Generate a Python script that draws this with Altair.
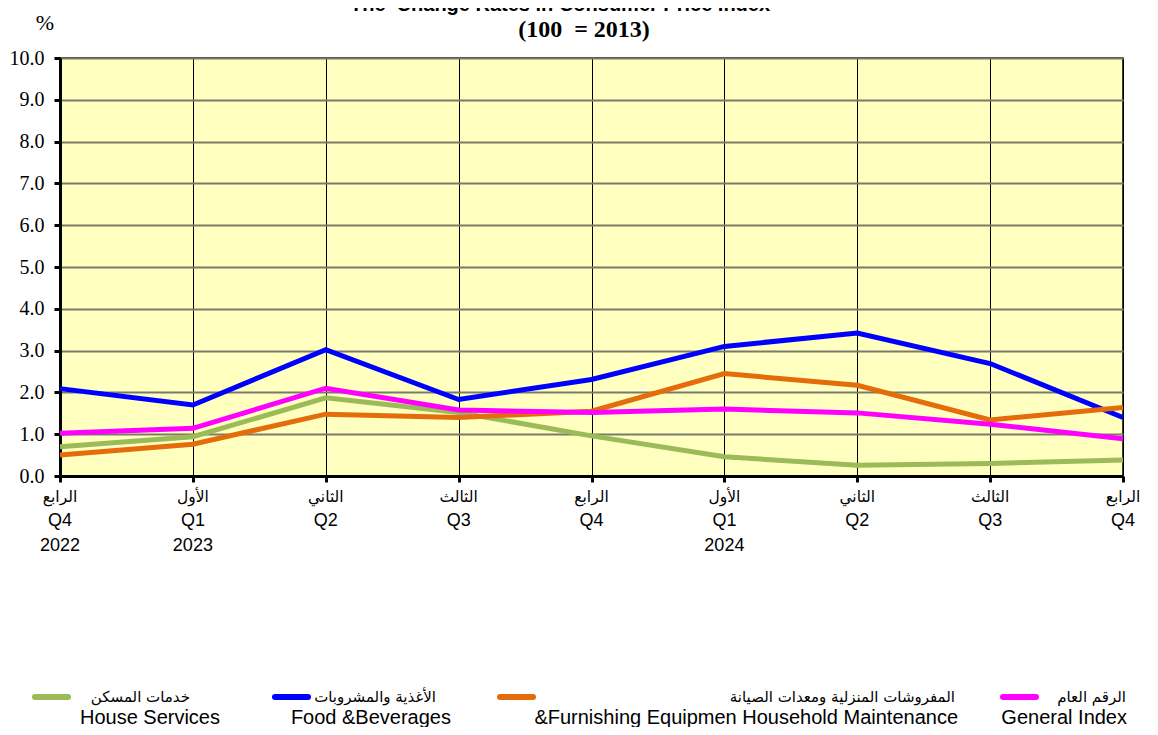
import altair as alt
import pandas as pd

# ---- data ----
quarters_ar = ["الرابع", "الأول", "الثاني", "الثالث", "الرابع", "الأول", "الثاني", "الثالث", "الرابع"]
quarters_en = ["Q4", "Q1", "Q2", "Q3", "Q4", "Q1", "Q2", "Q3", "Q4"]
years = ["2022", "2023", "", "", "", "2024", "", "", ""]

house = [0.70, 0.94, 1.87, 1.52, 0.96, 0.46, 0.26, 0.30, 0.38]
food = [2.09, 1.70, 3.02, 1.83, 2.31, 3.10, 3.42, 2.69, 1.40]
furnish = [0.50, 0.76, 1.48, 1.40, 1.55, 2.45, 2.17, 1.34, 1.64]
general = [1.02, 1.14, 2.10, 1.58, 1.52, 1.60, 1.51, 1.24, 0.89]

series_en = ["House Services", "Food &Beverages", "&Furnishing Equipmen Household Maintenance", "General Index"]
series_ar = ["خدمات المسكن", "الأغذية والمشروبات", "المفروشات المنزلية ومعدات الصيانة", "الرقم العام"]
series_vals = [house, food, furnish, general]
series_colors = ["#9BBB59", "#0000FF", "#E46C0A", "#FF00FF"]

title1 = "The\u00a0 Change Rates in Consumer Price Index"
title2 = "(100\u00a0 = 2013)"

W, H = 1063, 418

idx = list(range(len(quarters_en)))
xscale = alt.Scale(domain=[0, 8], nice=False, zero=False)
yscale = alt.Scale(domain=[0, 10], nice=False)

labels_df = pd.DataFrame({"i": idx, "ar": quarters_ar, "en": quarters_en, "yr": years})

xaxis = alt.Axis(values=idx, labels=False, title=None, grid=True)
yaxis = alt.Axis(values=list(range(11)), format=".1f", title=None, grid=True)

# background grid / axes layer
base = alt.Chart(labels_df).mark_point(opacity=0).encode(
    x=alt.X("i:Q", scale=xscale, axis=xaxis),
    y=alt.Y("v:Q", scale=yscale, axis=yaxis),
).transform_calculate(v="0")

layers = [base]
for name, vals, col in zip(series_en, series_vals, series_colors):
    df = pd.DataFrame({"i": idx, "v": vals})
    layers.append(
        alt.Chart(df).mark_line(color=col, strokeWidth=5, strokeJoin="miter").encode(
            x=alt.X("i:Q", scale=xscale, axis=xaxis), y=alt.Y("v:Q", scale=yscale, axis=yaxis)
        )
    )

# x-axis labels (three rows)
layers.append(alt.Chart(labels_df).mark_text(font="DejaVu Sans", fontSize=15.5, color="#000000", baseline="middle").encode(
    x=alt.X("i:Q", scale=xscale, axis=xaxis), y=alt.value(H + 21), text="ar:N"))
layers.append(alt.Chart(labels_df).mark_text(font="Liberation Sans", fontSize=18, color="#000000", baseline="middle").encode(
    x=alt.X("i:Q", scale=xscale, axis=xaxis), y=alt.value(H + 45), text="en:N"))
layers.append(alt.Chart(labels_df).mark_text(font="Liberation Sans", fontSize=18, color="#000000", baseline="middle").encode(
    x=alt.X("i:Q", scale=xscale, axis=xaxis), y=alt.value(H + 70), text="yr:N"))

# titles
def txt(t, x, y, **kw):
    return alt.Chart(pd.DataFrame({"t": [t]})).mark_text(**kw).encode(
        x=alt.value(x), y=alt.value(y), text="t:N")

layers.append(txt(title1, 500, -47, font="Liberation Sans", fontSize=20, fontWeight="bold",
                  color="#000000", baseline="alphabetic", align="center"))
layers.append(txt(title2, 524, -21, font="Liberation Serif", fontSize=24, fontWeight="bold",
                  color="#000000", baseline="alphabetic", align="center"))
layers.append(txt("%", -15, -35, font="Liberation Serif", fontSize=22, color="#000000",
                  baseline="middle", align="center"))

# manual legend
sw_x = [-28, 212, 437, 940]
ar_right = [130, 376, 895, 1066]
en_right = [160, 391, 898, 1067]
leg_y1 = 639
leg_y2 = 660
for k in range(4):
    layers.append(alt.Chart(pd.DataFrame({"a": [0]})).mark_rule(
        color=series_colors[k], strokeWidth=6, strokeCap="round").encode(
        x=alt.value(sw_x[k] + 3), x2=alt.value(sw_x[k] + 36), y=alt.value(leg_y1)))
    layers.append(txt(series_ar[k], ar_right[k], leg_y1, font="DejaVu Sans", fontSize=15,
                      color="#000000", baseline="middle", align="right"))
    layers.append(txt(series_en[k], en_right[k], leg_y2, font="Liberation Sans", fontSize=20,
                      color="#000000", baseline="middle", align="right"))

chart = alt.layer(*layers).properties(
    width=W, height=H,
    background="#FFFFFF",
    autosize=alt.AutoSizeParams(type="none"),
    padding={"left": 52, "top": 50, "right": 27, "bottom": 251},
).configure_view(
    fill="#FFFFC0", stroke="#000000", strokeWidth=1.5
).configure_axisX(
    domainColor="#000000", domainWidth=3, tickColor="#000000", tickWidth=3, tickSize=6,
    gridColor="#000000", gridWidth=1, gridOpacity=1
).configure_axisY(
    domainColor="#000000", domainWidth=3, tickColor="#000000", tickWidth=3, tickSize=6,
    gridColor="#7a7a6a", gridWidth=2, gridOpacity=1,
    labelFont="Liberation Serif", labelFontSize=20, labelColor="#000000", labelPadding=10
)

chart.save("out.html", embed_options={"renderer": "svg", "actions": False})
